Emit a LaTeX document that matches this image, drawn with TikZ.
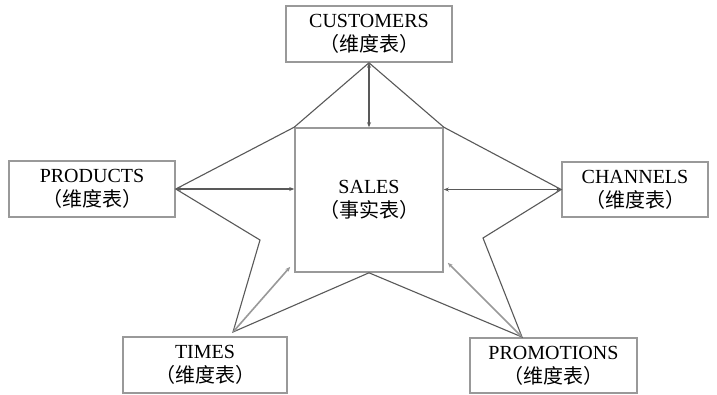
\documentclass[tikz,border=0pt]{standalone}
\usepackage{fontspec}
\setmainfont{Liberation Serif}
\newfontfamily\cjk{Noto Sans CJK SC}
\usepackage{tikz}
\usetikzlibrary{arrows.meta}
\newcommand{\dimtag}[1]{{\cjk\fontsize{20}{24}\selectfont （#1）}}
\tikzset{dimbox/.style={draw=black!40, line width=1.6pt, minimum width=166pt, minimum height=56pt,
    align=center, font=\fontsize{20}{24}\selectfont, inner sep=0pt}}
\tikzset{link/.style={draw=black!65, line width=1.1pt, {Stealth[length=5pt,width=4pt]}-{Stealth[length=5pt,width=4pt]}}}
\tikzset{starline/.style={draw=black!65, line width=1.1pt, line join=miter}}

\begin{document}
\begin{tikzpicture}[x=1pt, y=-1pt]
  \useasboundingbox[fill=white] (0, 0) rectangle (717, 394);

  \node[dimbox] at (369, 34) (cust) {CUSTOMERS\\\dimtag{维度表}};
  \node[dimbox] at (92, 189) (prod) {PRODUCTS\\\dimtag{维度表}};
  \node[dimbox, minimum width=146pt, minimum height=55pt] at (635, 189.5) (chan) {CHANNELS\\\dimtag{维度表}};
  \node[dimbox, minimum width=164pt] at (205, 365) (times) {TIMES\\\dimtag{维度表}};
  \node[dimbox, minimum width=167pt, minimum height=55pt] at (553.5, 365.5) (promo) {PROMOTIONS\\\dimtag{维度表}};

  \node[dimbox, minimum width=148pt, minimum height=144pt] at (369, 200) (sales) {SALES\\\dimtag{事实表}};

  % points of the star
  \coordinate (ttop) at (233, 332);
  \coordinate (ptop) at (522, 337);
  \coordinate (lin) at (260, 240);
  \coordinate (rin) at (483, 238);

  \draw[starline] (cust.south) -- (sales.north west) -- (prod.east) -- (lin) -- (ttop)
    -- (sales.south) -- (ptop) -- (rin) -- (chan.west) -- (sales.north east) -- cycle;

  \draw[link] (cust.south) -- (sales.north);
  \draw[link] (prod.east) -- (prod.east -| sales.west);
  \draw[link] (chan.west) -- (chan.west -| sales.east);
  \draw[link, draw=black!40, line width=1.6pt] (ttop) -- ([shift={(-4,-6)}]sales.south west);
  \draw[link, draw=black!40, line width=1.6pt] (ptop) -- ([shift={(4,-10)}]sales.south east);
\end{tikzpicture}
\end{document}
